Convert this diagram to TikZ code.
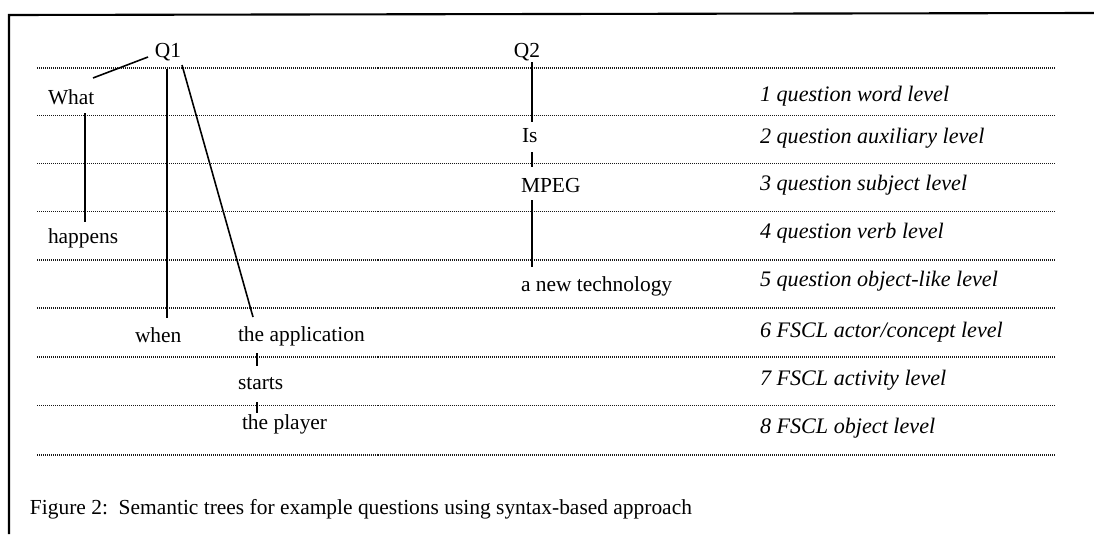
\documentclass[tikz,border=0pt]{standalone}
\usepackage{fontspec}
\setmainfont{Liberation Serif}
\begin{document}
\begin{tikzpicture}[x=0.02cm,y=-0.02cm,
  every node/.style={inner sep=0pt,outer sep=0pt,font=\fontsize{12.2}{14}\selectfont},
  word/.style={anchor=base west},
  lvl/.style={anchor=base west,font=\fontsize{12.6}{14}\selectfont\itshape},
  levelline/.style={line width=0.7pt,black!90,dash pattern=on 0.57pt off 0.57pt},
  edge/.style={line width=0.9pt,black},
  frame/.style={line width=1.2pt,black}]
\useasboundingbox (0,0) rectangle (1094,534);
% frame
\coordinate (fl) at (9,534);
\coordinate (ftl) at (9,15);
\coordinate (ftr) at (1094,13);
\draw[frame] (fl) -- (ftl) -- (ftr);
% level lines
\foreach \yy in {68,115.5,163.5,211.5,260,308,357,405.5,455}
  \draw[levelline] (37,\yy) -- (1055,\yy);
% tree 1
\node[anchor=base] (Q1) at (168,57) {Q1};
\node[word] (what) at (48,104) {What};
\node[word] (happens) at (48,243) {happens};
\node[word] (when) at (135,342) {when};
\node[word] (app) at (238,341) {the application};
\node[word] (starts) at (238,389) {starts};
\node[word] (player) at (242,429) {the player};
% tree 2
\node[anchor=base] (Q2) at (527,57) {Q2};
\node[word] (is) at (522,142) {Is};
\node[word] (mpeg) at (521,192) {MPEG};
\node[word] (ant) at (521,291) {a new technology};
% level labels
\node[lvl] (l1) at (760,101) {1 question word level};
\node[lvl] (l2) at (760,143) {2 question auxiliary level};
\node[lvl] (l3) at (760,190) {3 question subject level};
\node[lvl] (l4) at (760,238) {4 question verb level};
\node[lvl] (l5) at (760,286) {5 question object-like level};
\node[lvl] (l6) at (760,337) {6 FSCL actor/concept level};
\node[lvl] (l7) at (760,385) {7 FSCL activity level};
\node[lvl] (l8) at (760,433) {8 FSCL object level};
% caption
\node[word] (cap) at (30,514) {Figure 2:\ \ Semantic trees for example questions using syntax-based approach};
% connectors tree 1
\draw[edge] ([shift={(-20,0)}]Q1.base) -- ([shift={(45,-26)}]what.base west);
\draw[edge] ([shift={(-1,12)}]Q1.base) -- ([shift={(32,-24)}]when.base west);
\draw[edge] ([shift={(14,8)}]Q1.base) -- ([shift={(15,-24)}]app.base west);
\draw[edge] ([shift={(37,9)}]what.base west) -- ([shift={(37,-21)}]happens.base west);
\draw[edge] ([shift={(19,12)}]app.base west) -- ([shift={(19,-23)}]starts.base west);
\draw[edge] ([shift={(19,13)}]starts.base west) -- ([shift={(15,-16)}]player.base west);
% connectors tree 2
\draw[edge] ([shift={(5,5)}]Q2.base) -- ([shift={(10,-20)}]is.base west);
\draw[edge] ([shift={(10,10)}]is.base west) -- ([shift={(11,-25)}]mpeg.base west);
\draw[edge] ([shift={(11,8)}]mpeg.base west) -- ([shift={(11,-24)}]ant.base west);
\end{tikzpicture}
\end{document}
